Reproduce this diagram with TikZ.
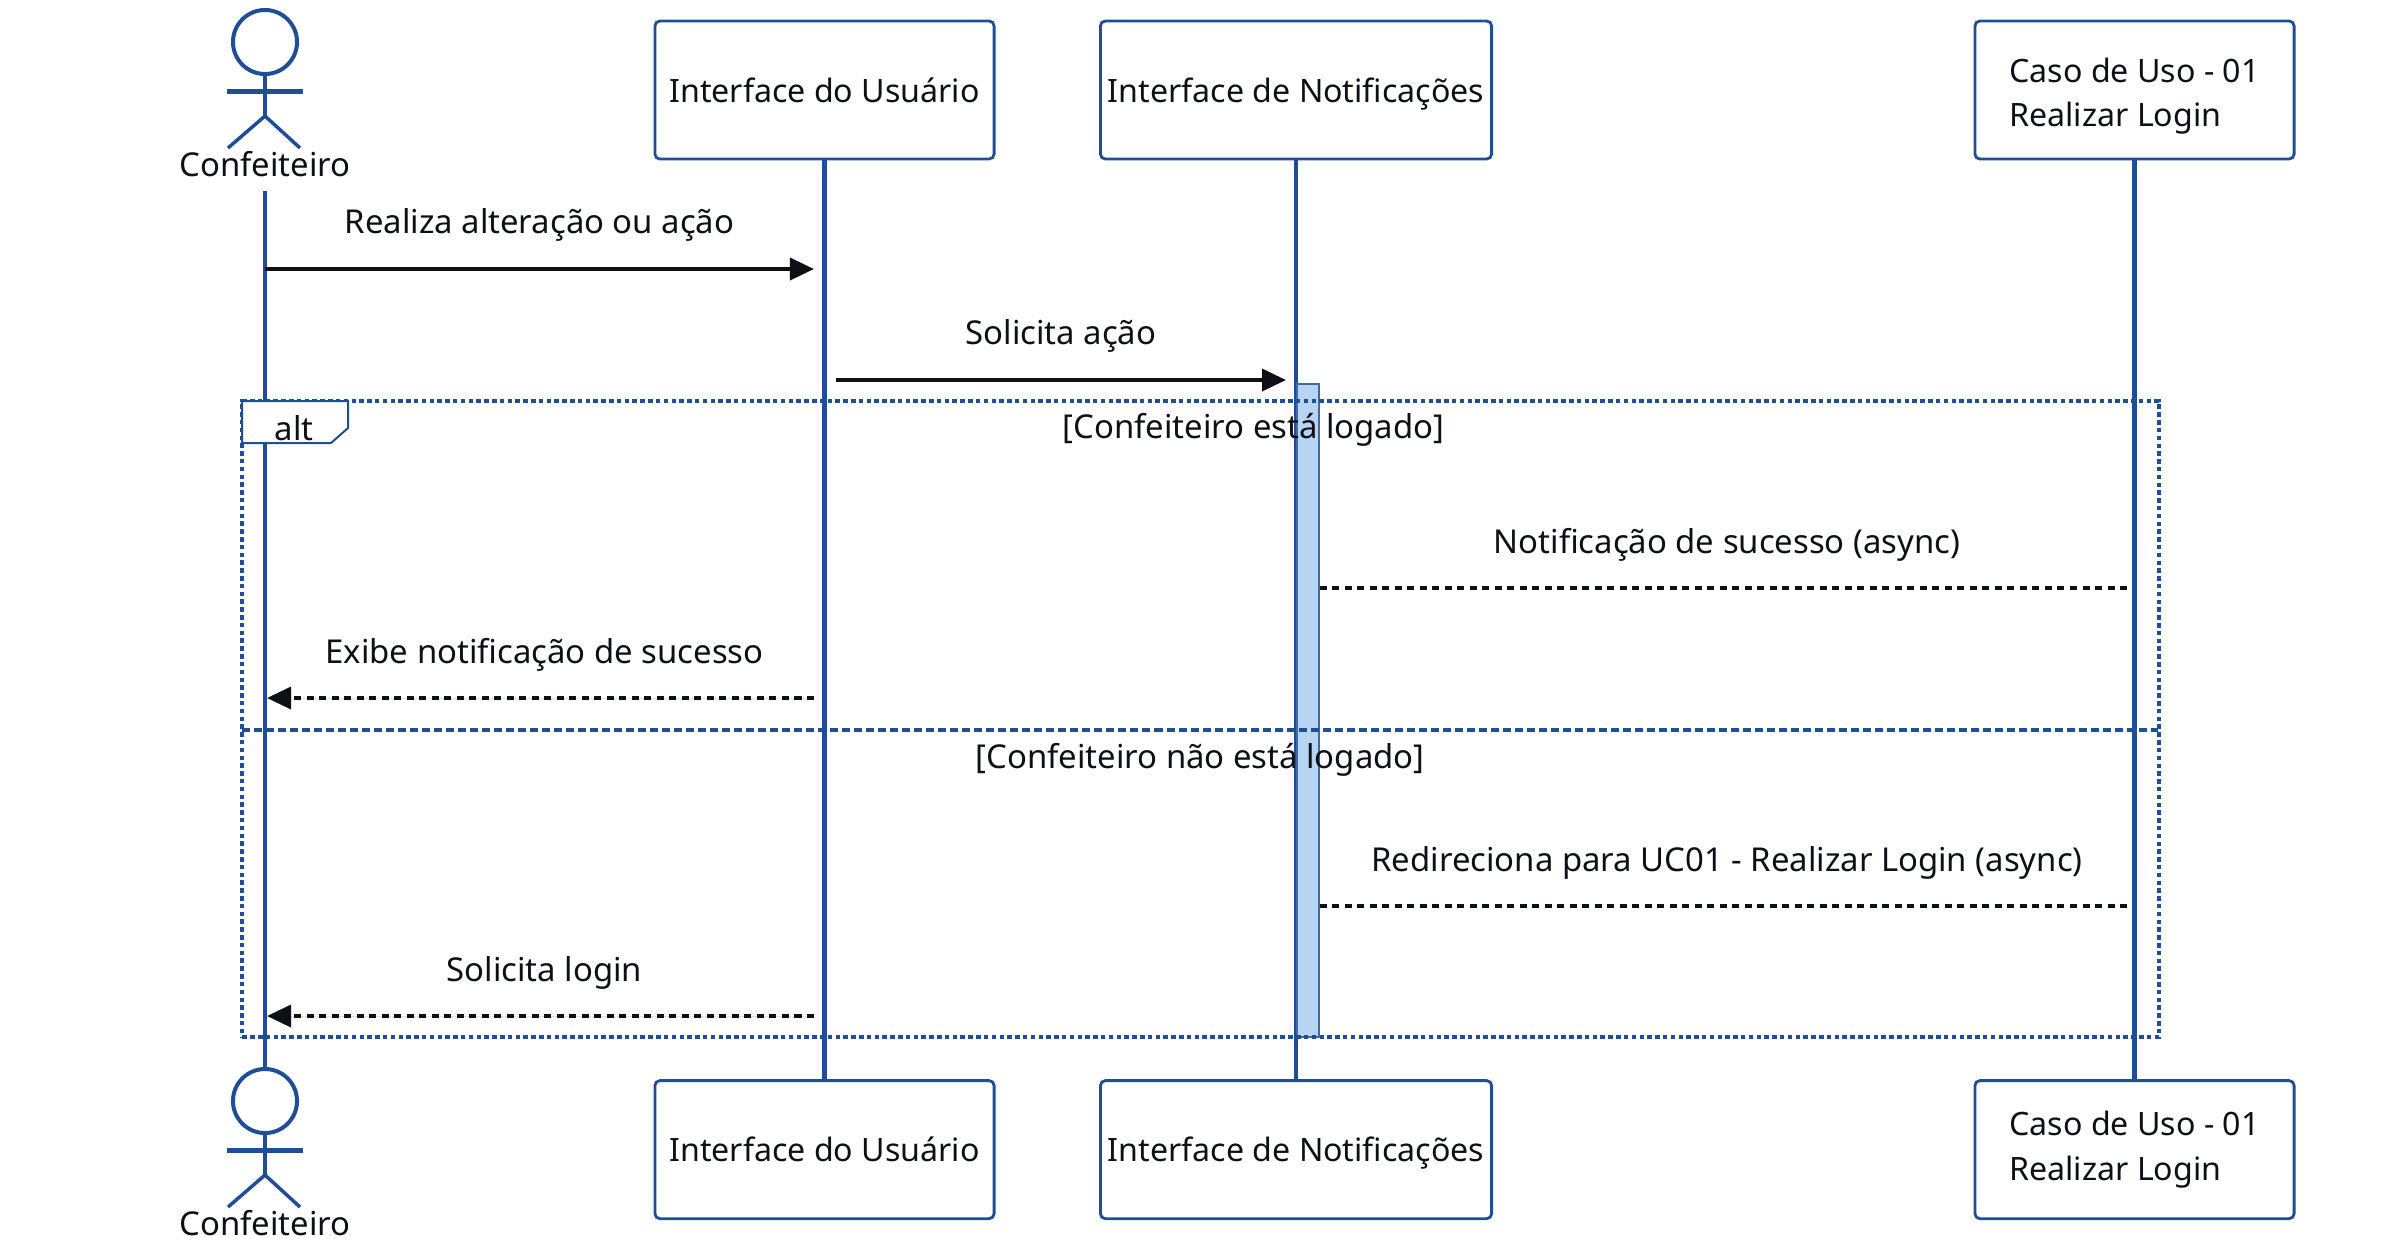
\documentclass[tikz,border=0pt]{standalone}
\usepackage{fontspec}
\setmainfont{Noto Sans}
\usetikzlibrary{arrows.meta}
\definecolor{umlblue}{HTML}{1F4E96}
\definecolor{barblue}{HTML}{B8D4F3}
\definecolor{inkblack}{HTML}{0D1117}
\begin{document}
\begin{tikzpicture}[
		x=0.01cm, y=-0.01cm,
		node distance=10.59cm,
		font=\fontsize{9.35}{12.6}\selectfont,
		box/.style={rectangle, draw=umlblue, line width=0.028cm, rounded corners=0.05cm, minimum height=1.38cm, inner sep=0pt, align=left, text=inkblack, fill=white, font=\fontsize{9.15}{12.6}\selectfont},
		uibox/.style={box, minimum width=3.39cm},
		notifbox/.style={box, minimum width=3.91cm, text depth=0pt},
		loginbox/.style={box, minimum width=3.19cm},
		lifeline/.style={draw=umlblue, line width=0.045cm},
		limb/.style={draw=umlblue, line width=0.035cm},
		arrow/.style={-{Triangle[length=0.24cm,width=0.22cm]}, draw=inkblack, fill=inkblack, line width=0.035cm},
		reply/.style={draw=inkblack, line width=0.035cm, dash pattern=on 0.07cm off 0.055cm},
		replyarrow/.style={reply, -{Triangle[length=0.24cm,width=0.22cm]}, fill=inkblack},
		msg/.style={midway, anchor=base, yshift=0.35cm, inner sep=0pt, text=inkblack},
		replymsg/.style={msg, xshift=0.04cm},
		title/.style={inner sep=0pt, text=inkblack},
		altframe/.style={draw=umlblue, line width=0.04cm, dash pattern=on 0.045cm off 0.033cm},
		altline/.style={draw=umlblue, line width=0.035cm, dash pattern=on 0.08cm off 0.04cm},
		activation/.style={rectangle, draw=umlblue!85!white, fill=barblue, line width=0.025cm, minimum width=0.22cm, minimum height=6.53cm, inner sep=0pt}
	]
	\useasboundingbox (0,0) rectangle (2400,1241);

	% actors
	\foreach \y/\tag in {0/A,1059/B} {
		\node[circle, draw=umlblue, line width=0.04cm, minimum size=0.64cm, inner sep=0pt] (head\tag) at (265,42+\y) {};
		\node[title, anchor=base] (conf\tag) at (265,176+\y) {Confeiteiro};
		\draw[limb] (head\tag.south) -- (265,116+\y);
		\draw[umlblue, line width=0.05cm] (227,91+\y) -- (303,91+\y);
		\draw[limb] (228,148+\y) -- (265,116+\y) -- (300,148+\y);
	}

	% participants
	\node[uibox] (ui) at (824.5,90) {Interface do Usuário};
	\node[notifbox] (notif) at (1296,90) {Interface de Notificações};
	\node[loginbox] (login) at (2134.5,90) {};
	\node[title, align=left, font=\fontsize{9.15}{12.6}\selectfont, yshift=-0.06cm] (logintext) at (login) {Caso de Uso - 01\\Realizar Login};
	\node[uibox, below of=ui] (uiB) {Interface do Usuário};
	\node[notifbox, below of=notif] (notifB) {Interface de Notificações};
	\node[loginbox, below of=login] (loginB) {Caso de Uso - 01\\Realizar Login};

	% lifelines
	\draw[lifeline] ([yshift=-0.14cm]confA.south) -- (headB.north);
	\draw[lifeline] (ui) -- (uiB);
	\draw[lifeline] (notif) -- (notifB);
	\draw[lifeline] (login) -- (loginB);

	\node[activation] (bar) at (1308,710.5) {};

	% alt frame
	\node[rectangle, altframe, minimum width=19.15cm, minimum height=6.36cm, inner sep=0pt] (frame) at (1200.5,719) {};
	\coordinate (divleft) at (242,730);
	\coordinate (divright) at (2158,730);
	\draw[altline] (divleft) -- (divright);
	\draw[draw=umlblue, line width=0.02cm, fill=white] (242,401) -- (348,401) -- (348,428) -- (331,443) -- (242,443) -- cycle;
	\node[title] (alt) at (294,428) {alt};
	\node[title] (guardok) at (1253.5,430) {[Confeiteiro está logado]};
	\node[title] (guardno) at (1200,760) {[Confeiteiro não está logado]};

	% messages
	\coordinate (m1a) at (265,269);
	\coordinate (m1b) at (814,269);
	\coordinate (m2a) at (836,380);
	\coordinate (m2b) at (1286,380);
	\coordinate (m3a) at (2127,588);
	\coordinate (m3b) at (1319,588);
	\coordinate (m4a) at (814,698);
	\coordinate (m4b) at (267,698);
	\coordinate (m5a) at (2127,906);
	\coordinate (m5b) at (1319,906);
	\coordinate (m6a) at (814,1016);
	\coordinate (m6b) at (267,1016);

	\draw[arrow] (m1a) -- (m1b) node[msg] {Realiza alteração ou ação};
	\draw[arrow] (m2a) -- (m2b) node[msg] {Solicita ação};
	\draw[reply] (m3a) -- (m3b) node[replymsg] {Notificação de sucesso (async)};
	\draw[replyarrow] (m4a) -- (m4b) node[replymsg] {Exibe notificação de sucesso};
	\draw[reply] (m5a) -- (m5b) node[replymsg] {Redireciona para UC01 - Realizar Login (async)};
	\draw[replyarrow] (m6a) -- (m6b) node[replymsg] {Solicita login};
\end{tikzpicture}
\end{document}
